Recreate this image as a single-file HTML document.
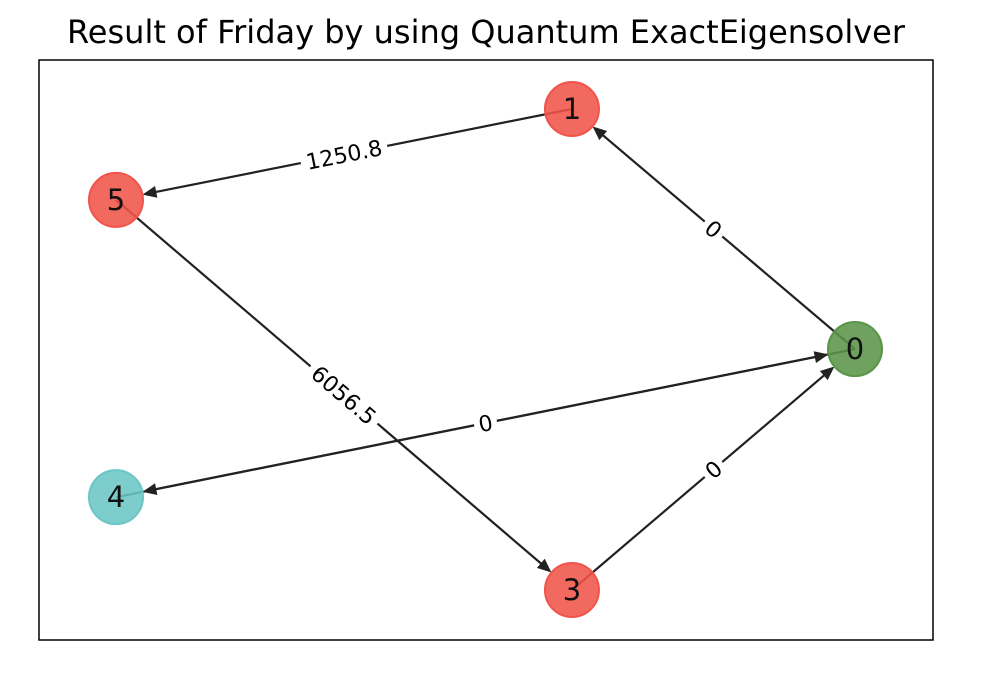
<!DOCTYPE html>
<html><head><meta charset="utf-8"><style>
body{margin:0;background:#fff}
svg text{font-family:"DejaVu Sans","Liberation Sans",sans-serif}
</style></head><body>
<svg id="chart" width="986" height="678" viewBox="0 0 986 678" xmlns="http://www.w3.org/2000/svg">
<rect width="986" height="678" fill="#fff"/>
<text x="486" y="43" font-size="32" text-anchor="middle" fill="#000">Result of Friday by using Quantum ExactEigensolver</text>
<rect x="39" y="60" width="894" height="580" fill="none" stroke="#000" stroke-width="1.5"/>
<g id="edges"></g><g id="nodes"></g><g id="labels"></g>
</svg>
<script>
const nodeIds=["0","1","3","4","5"];
const nodeX=[1.0,0.617,0.617,0.0,0.0];
const nodeY=[0.501,1.0,0.0,0.193,0.811];
const nodeColors=["#5a9548","#f0544a","#f0544a","#6cc6c6","#f0544a"];
const edgeFrom=["1","0","5","0","4","3"];
const edgeTo=["5","1","3","4","0","0"];
const edgeLabels=["1250.8","0","6056.5","0","","0"];
const sx=v=>116+v*(855-116);
const sy=v=>590-v*(590-109);
const NS="http://www.w3.org/2000/svg";
const R=27;
const eg=document.getElementById('edges'),ng=document.getElementById('nodes'),lg=document.getElementById('labels');
function pos(id){const i=nodeIds.indexOf(id);return [sx(nodeX[i]),sy(nodeY[i])];}
edgeFrom.forEach((f,k)=>{
 const [x1,y1]=pos(f),[x2,y2]=pos(edgeTo[k]);
 const dx=x2-x1,dy=y2-y1,L=Math.hypot(dx,dy),ux=dx/L,uy=dy/L;
 const tx=x2-ux*R,ty=y2-uy*R;
 const line=document.createElementNS(NS,'line');
 
 
 line.setAttribute('x1',x1);line.setAttribute('y1',y1);line.setAttribute('x2',tx-ux*8);line.setAttribute('y2',ty-uy*8);
 line.setAttribute('stroke','#222');line.setAttribute('stroke-width','2.2');
 eg.appendChild(line);
 const a=document.createElementNS(NS,'polygon');
 
 
 const bx=tx-ux*14,by=ty-uy*14,px=-uy*6,py=ux*6;
 a.setAttribute('points',`${tx},${ty} ${bx+px},${by+py} ${bx-px},${by-py}`);
 a.setAttribute('fill','#222');
 eg.appendChild(a);
 if(edgeLabels[k]!==""){
  const mx=(x1+x2)/2,my=(y1+y2)/2;
  let ang=Math.atan2(dy,dx)*180/Math.PI;if(ang>90)ang-=180;if(ang<-90)ang+=180;
  const g=document.createElementNS(NS,'g');
  
  
  g.setAttribute('transform',`translate(${mx},${my}) rotate(${ang})`);
  const w=edgeLabels[k].length*13+10;
  const r=document.createElementNS(NS,'rect');
  r.setAttribute('x',-w/2);r.setAttribute('y',-14);r.setAttribute('width',w);r.setAttribute('height',28);r.setAttribute('fill','#fff');
  g.appendChild(r);
  const t=document.createElementNS(NS,'text');
  t.setAttribute('text-anchor','middle');t.setAttribute('y',8);t.setAttribute('font-size','22');
  t.textContent=edgeLabels[k];g.appendChild(t);
  lg.appendChild(g);
 }
});
nodeIds.forEach((id,i)=>{
 const c=document.createElementNS(NS,'circle');
 
 
 c.setAttribute('cx',sx(nodeX[i]));c.setAttribute('cy',sy(nodeY[i]));c.setAttribute('r',R);
 c.setAttribute('fill',nodeColors[i]);c.setAttribute('fill-opacity','0.88');
 c.setAttribute('stroke',nodeColors[i]);c.setAttribute('stroke-width','2');
 ng.appendChild(c);
 const t=document.createElementNS(NS,'text');
 
 
 t.setAttribute('x',sx(nodeX[i]));t.setAttribute('y',sy(nodeY[i])+10);
 t.setAttribute('text-anchor','middle');t.setAttribute('font-size','29');t.setAttribute('fill','#111');
 t.textContent=id;ng.appendChild(t);
});
</script>
</body></html>
